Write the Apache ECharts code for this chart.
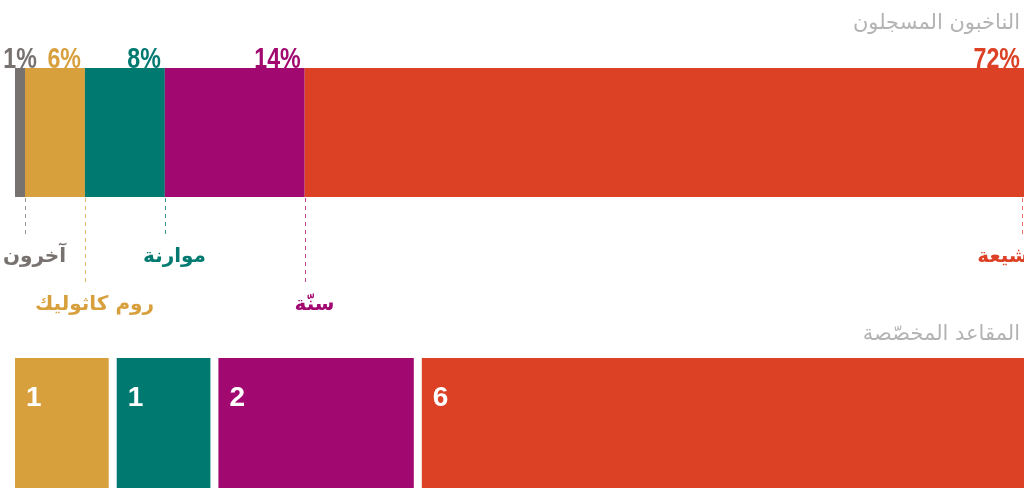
<!DOCTYPE html>
<html>
<head>
<meta charset="utf-8">
<script src="https://cdn.jsdelivr.net/npm/echarts@6/dist/echarts.min.js"></script>
<style>
  html, body { margin: 0; padding: 0; background: #fff; }
  #chart { width: 1024px; height: 490px; }
</style>
</head>
<body>
<div id="chart"></div>
<script>
// registered voters by community (share, %)
const voterGroups = ['آخرون', 'روم كاثوليك', 'موارنة', 'سنّة', 'شيعة']
const voterShares = [1, 6, 8, 14, 72]
const voterLabels = ['1%', '6%', '8%', '14%', '72%']

// allocated seats
const seatGroups = ['روم كاثوليك', 'موارنة', 'سنّة', 'شيعة']
const seats = [1, 1, 2, 6]

const colors = ['#77716f', '#d89f3d', '#007a70', '#a10870', '#dc4126']
const seatColors = colors.slice(1)

const numFont = "'Liberation Sans', Arial, sans-serif"
const arabic = "'DejaVu Sans', sans-serif"

const shareTotal = voterShares.reduce((a, b) => a + b, 0)
const seatTotal = seats.reduce((a, b) => a + b, 0)

let acc = 0
const segmentEnds = voterShares.map(v => (acc += v))

const chart = echarts.init(document.getElementById('chart'))

const topSeries = voterShares.map((v, i) => ({
  type: 'bar',
  name: voterGroups[i],
  stack: 'voters',
  xAxisIndex: 0,
  yAxisIndex: 0,
  barWidth: '100%',
  data: [v],
  itemStyle: { color: colors[i] },
  silent: true
}))

const seatSeries = seats.map((v, i) => ({
  type: 'bar',
  name: seatGroups[i],
  stack: 'seats',
  xAxisIndex: 1,
  yAxisIndex: 1,
  barWidth: '100%',
  data: [v],
  itemStyle: { color: seatColors[i], borderColor: '#fff', borderWidth: 4 },
  silent: true,
  label: {
    show: true,
    position: [15, 30],
    align: 'left',
    verticalAlign: 'top',
    formatter: String(v),
    color: '#fff',
    fontFamily: numFont,
    fontWeight: 'bold',
    fontSize: 28
  }
}))

// percentages above, dashed leader lines + community names under the top bar
const annotations = {
  type: 'custom',
  xAxisIndex: 0,
  yAxisIndex: 0,
  silent: true,
  clip: false,
  data: segmentEnds.map(e => [e, 0]),
  renderItem: (params, api) => {
    const i = params.dataIndex
    const last = i === voterGroups.length - 1
    const xEnd = api.coord([api.value(0), 0])[0]
    const xStart = api.coord([api.value(0) - voterShares[i], 0])[0]
    const x = Math.min(Math.round(xEnd), 1022) + 0.5
    const band = api.size([0, 1])[1]
    const yc = api.coord([0, 0])[1]
    const yTop = yc - band / 2
    const y0 = yc + band / 2
    const len = i % 2 === 1 ? 86 : 38
    return {
      type: 'group',
      children: [
        {
          type: 'text',
          x: i === 0 ? (xStart + xEnd) / 2 : xEnd - 4,
          y: yTop + 6,
          scaleX: 0.8,
          style: {
            text: voterLabels[i],
            x: 0,
            y: 0,
            align: i === 0 ? 'center' : 'right',
            verticalAlign: 'bottom',
            fill: colors[i],
            font: 'bold 29px ' + numFont
          }
        },
        {
          type: 'line',
          shape: { x1: x, y1: y0 + 1, x2: x, y2: y0 + len },
          style: { stroke: colors[i], lineWidth: 1, lineDash: [4, 4], opacity: 0.75 }
        },
        {
          type: 'text',
          style: {
            text: voterGroups[i],
            x: last ? x + 6 : x + 9,
            y: y0 + len + 12,
            align: last ? 'right' : 'center',
            verticalAlign: 'top',
            fill: colors[i],
            font: 'bold 20px ' + arabic
          }
        }
      ]
    }
  }
}

chart.setOption({
  animation: false,
  title: [
    {
      text: 'الناخبون المسجلون',
      right: -1,
      top: 8,
      textStyle: { color: '#b3b3b3', fontWeight: 'normal', fontSize: 21, fontFamily: arabic }
    },
    {
      text: 'المقاعد المخصّصة',
      right: -1,
      top: 319,
      textStyle: { color: '#b3b3b3', fontWeight: 'normal', fontSize: 21, fontFamily: arabic }
    }
  ],
  grid: [
    { left: 15, width: 1009, top: 68, height: 129, outerBoundsMode: 'none' },
    { left: 11, width: 1017, top: 354, height: 138, outerBoundsMode: 'none' }
  ],
  xAxis: [
    { type: 'value', gridIndex: 0, min: 0, max: shareTotal, show: false },
    { type: 'value', gridIndex: 1, min: 0, max: seatTotal, show: false }
  ],
  yAxis: [
    { type: 'category', gridIndex: 0, data: ['voters'], show: false },
    { type: 'category', gridIndex: 1, data: ['seats'], show: false }
  ],
  series: [...topSeries, annotations, ...seatSeries]
})
</script>
</body>
</html>
